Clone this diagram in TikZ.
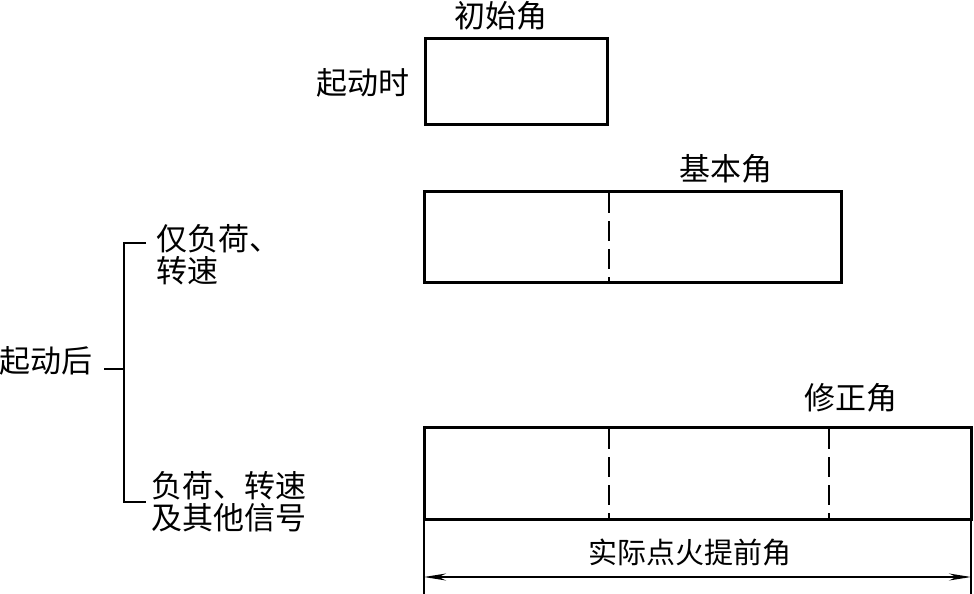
\documentclass[tikz,border=0pt]{standalone}
\usepackage{fontspec}
\setmainfont{Noto Sans CJK SC}
\usetikzlibrary{arrows.meta}
\begin{document}
\begin{tikzpicture}[x=1pt,y=-1pt,
  lbl/.style={font=\fontsize{31}{32}\selectfont, inner sep=0pt},
  anglebox/.style={draw, line width=3pt, inner sep=0pt},
  divider/.style={line width=1.5pt, dash pattern=on 20pt off 8pt},
  brace/.style={line width=2pt},
  dim/.style={line width=1.4pt}]
\useasboundingbox (0,0) rectangle (974,594);
% boxes
\node[anglebox, minimum width=182pt, minimum height=85pt] (b1) at (516,81.5) {};
\node[anglebox, minimum width=417pt, minimum height=91pt] (b2) at (632.5,236.5) {};
\node[anglebox, minimum width=547pt, minimum height=92pt] (b3) at (697.5,473) {};
% dividers
\coordinate (d2t) at (609,193); \coordinate (d2b) at (609,281);
\draw[divider] (d2t) -- (d2b);
\coordinate (d3t) at (609,429); \coordinate (d3b) at (609,518);
\draw[divider] (d3t) -- (d3b);
\coordinate (d4t) at (829,429); \coordinate (d4b) at (829,518);
\draw[divider] (d4t) -- (d4b);
% labels
\node[lbl] (l1) at (501,16) {初始角};
\node[lbl] (l2) at (363,83) {起动时};
\node[lbl] (l3) at (726,169) {基本角};
\node[lbl] (l5) at (851,398) {修正角};
\node[lbl] (l4) at (46,361) {起动后};
\node[lbl, anchor=west, align=left] (la) at (156,255) {仅负荷、\\转速};
\node[lbl, anchor=west, align=left] (lb) at (151,502) {负荷、转速\\及其他信号};
\node[lbl, font=\fontsize{29}{32}\selectfont] (l6) at (690,552) {实际点火提前角};
% bracket
\coordinate (bt) at (124,243); \coordinate (btr) at (146,243);
\coordinate (bb) at (124,502); \coordinate (bbr) at (146,502);
\coordinate (bm) at (124,369); \coordinate (bml) at (104,369);
\draw[brace] (btr) -- (bt) -- (bb) -- (bbr);
\draw[brace] (bml) -- (bm);
% dimension
\coordinate (e1t) at (424,519); \coordinate (e1b) at (424,594);
\coordinate (e2t) at (971,519); \coordinate (e2b) at (971,594);
\draw[dim] (e1t) -- (e1b);
\draw[dim] (e2t) -- (e2b);
\coordinate (a1) at (424,577); \coordinate (a2) at (971,577);
\draw[dim, {Stealth[length=22pt,width=7pt]}-{Stealth[length=22pt,width=7pt]}] (a1) -- (a2);
\end{tikzpicture}
\end{document}
